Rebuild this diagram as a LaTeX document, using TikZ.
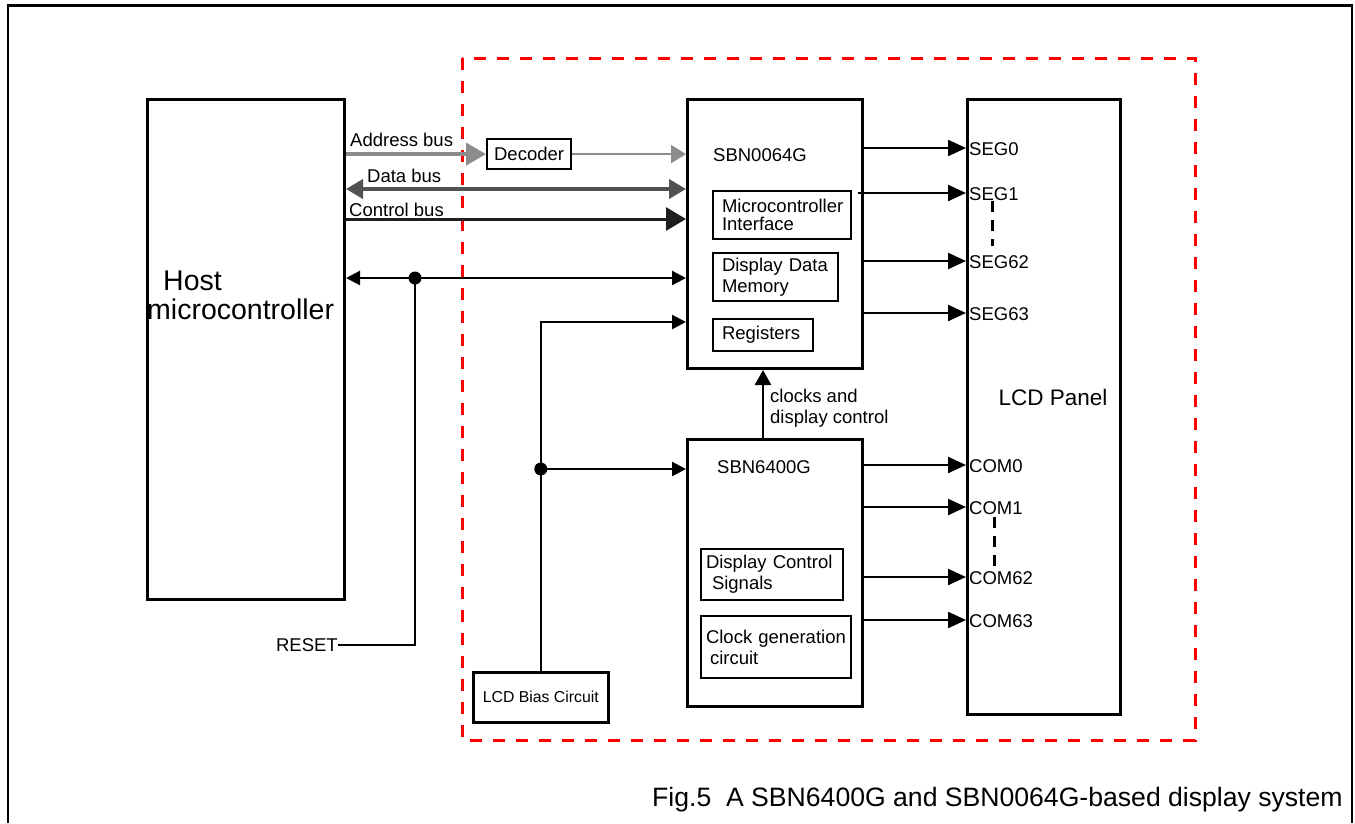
\documentclass[tikz,border=0pt]{standalone}
\usepackage{fontspec}
\setmainfont{Liberation Sans}
\usetikzlibrary{arrows.meta}
\begin{document}
\begin{tikzpicture}[x=1pt,y=-1pt,
  box/.style={draw,line width=3pt,inner sep=0pt,anchor=north west},
  ibox/.style={draw,line width=2pt,inner ysep=0pt,anchor=north west,align=left,font=\fontsize{18.5}{21}\selectfont},
  lbl/.style={inner sep=0pt,font=\fontsize{18.5}{21}\selectfont,align=left},
  sig/.style={line width=2.3pt,-{Triangle[length=18pt,width=16pt]}},
  thin/.style={line width=2.3pt},
  dot/.style={circle,fill,inner sep=0pt,minimum size=13pt},
  vdash/.style={line width=3pt,dash pattern=on 11pt off 8pt}]
\useasboundingbox (0,0) rectangle (1355,823);
% outer frame
\draw[line width=1.8pt] (8,823) -- (8,5) -- (1352,5) -- (1352,823);
\draw[line width=3pt] (7,5) -- (1353,5);
% red dashed region
\draw[red,line width=3pt,dash pattern=on 12pt off 11pt] (462,58) rectangle (1195,740);
% main boxes
\node[box,minimum width=197pt,minimum height=500pt] (host) at (146,98) {};
\node[box,minimum width=175pt,minimum height=269pt] (sbn0) at (686,98) {};
\node[box,minimum width=175pt,minimum height=267pt] (sbn6) at (686,438) {};
\node[box,minimum width=153pt,minimum height=615pt] (lcd) at (966,98) {};
\node[box,line width=2.6pt,minimum width=135pt,minimum height=50pt,font=\fontsize{15.8}{18}\selectfont] (bias) at (472,671) {LCD Bias Circuit};
\node[box,line width=2.2pt,minimum width=84pt,minimum height=30pt,font=\fontsize{18.5}{21}\selectfont] (dec) at (486,138) {Decoder};
% inner boxes
\node[ibox,inner xsep=9pt,text width=120pt,minimum height=48pt] (mi) at (712,190) {Microcontroller\\[-3pt]Interface};
\node[ibox,inner xsep=9pt,text width=107pt,minimum height=48pt] (ddm) at (712,252) {Display Data\\Memory};
\node[ibox,inner xsep=9pt,text width=82pt,minimum height=32pt] (reg) at (712,318) {\raisebox{-2pt}{Registers}};
\node[ibox,inner xsep=5pt,text width=132pt,minimum height=51pt] (dcs) at (700,548) {Display Control\\\hspace{6pt}Signals};
\node[ibox,inner xsep=5pt,text width=140pt,minimum height=62pt] (cgc) at (700,615) {Clock generation\\\hspace{4pt}circuit};
% texts
\node[inner sep=0pt,anchor=west,font=\fontsize{28.5}{30}\selectfont] (hostt) at (163,281) {Host};
\node[inner sep=0pt,anchor=west,font=\fontsize{28.5}{30}\selectfont] (hostm) at (147,309) {microcontroller};
\node[lbl,anchor=west] (t0) at (713,155) {SBN0064G};
\node[lbl,anchor=west] (t6) at (717,467) {SBN6400G};
\node[lbl,anchor=center,font=\fontsize{22.5}{24}\selectfont] (lcdt) at (1053,397) {LCD Panel};
\node[lbl,anchor=west] (clk) at (770,408) {clocks and\\display control};
\node[lbl,anchor=west] (abl) at (350,140) {Address bus};
\node[lbl,anchor=west] (dbl) at (367,176) {Data bus};
\node[lbl,anchor=west] (cbl) at (349,210) {Control bus};
\node[lbl,anchor=east] (rst) at (338,645) {RESET};
\node[inner sep=0pt,anchor=west,font=\fontsize{26.6}{30}\selectfont] (cap) at (652,800) {Fig.5\ \ A SBN6400G and SBN0064G-based display system};
% buses
\draw[color=gray!90,line width=3.8pt,-{Triangle[length=20pt,width=22pt]}] (host.east |- dec.west) -- (dec.west);
\draw[color=gray!90,line width=2pt,-{Triangle[length=15pt,width=18pt]}] (dec.east) -- (dec.east -| sbn0.west);
\draw[color=black!68,line width=3.8pt,{Triangle[length=17pt,width=19pt]}-{Triangle[length=17pt,width=19pt]}] (host.east |- 0,189) -- (sbn0.west |- 0,189);
\draw[color=black!88,line width=3pt,-{Triangle[length=20pt,width=23pt]}] (host.east |- 0,219) -- (sbn0.west |- 0,219);
% reset line
\coordinate (rj) at (415,278);
\draw[thin,{Triangle[length=14pt,width=14pt]}-{Triangle[length=14pt,width=14pt]}] (host.east |- rj) -- (sbn0.west |- rj);
\node[dot] (rdot) at (rj) {};
\draw[thin] (rdot.center) |- (rst.east);
% bias lines
\coordinate (bj) at (bias.north |- 0,469);
\draw[thin,-{Triangle[length=14pt,width=14pt]}] (bias.north) -- (bias.north |- 0,322) -- (sbn0.west |- 0,322);
\draw[thin,-{Triangle[length=14pt,width=14pt]}] (bj) -- (sbn6.west |- bj);
\node[dot] (bdot) at (bj) {};
% clocks
\draw[line width=2.6pt,-{Triangle[length=15pt,width=16pt]}] (sbn6.north -| 763,0) -- (sbn0.south -| 763,0);
% SEG / COM
\foreach \y/\t in {148/SEG0,193/SEG1,261/SEG62,313/SEG63,465/COM0,507/COM1,577/COM62,620/COM63}{
  \node[lbl,anchor=west] (L\t) at (969,\y+1) {\t};
}
\draw[sig] (sbn0.east |- 0,148) -- (lcd.west |- 0,148);
\draw[sig] ([xshift=-6pt]sbn0.east |- 0,193) -- (lcd.west |- 0,193);
\draw[sig] (sbn0.east |- 0,261) -- (lcd.west |- 0,261);
\draw[sig] (sbn0.east |- 0,313) -- (lcd.west |- 0,313);
\draw[sig] (sbn6.east |- 0,465) -- (lcd.west |- 0,465);
\draw[sig] (sbn6.east |- 0,507) -- (lcd.west |- 0,507);
\draw[sig] (sbn6.east |- 0,577) -- (lcd.west |- 0,577);
\draw[sig] (sbn6.east |- 0,620) -- (lcd.west |- 0,620);
\draw[vdash] (992,201) -- (992,246);
\draw[vdash] (994,517) -- (994,568);
\end{tikzpicture}
\end{document}
